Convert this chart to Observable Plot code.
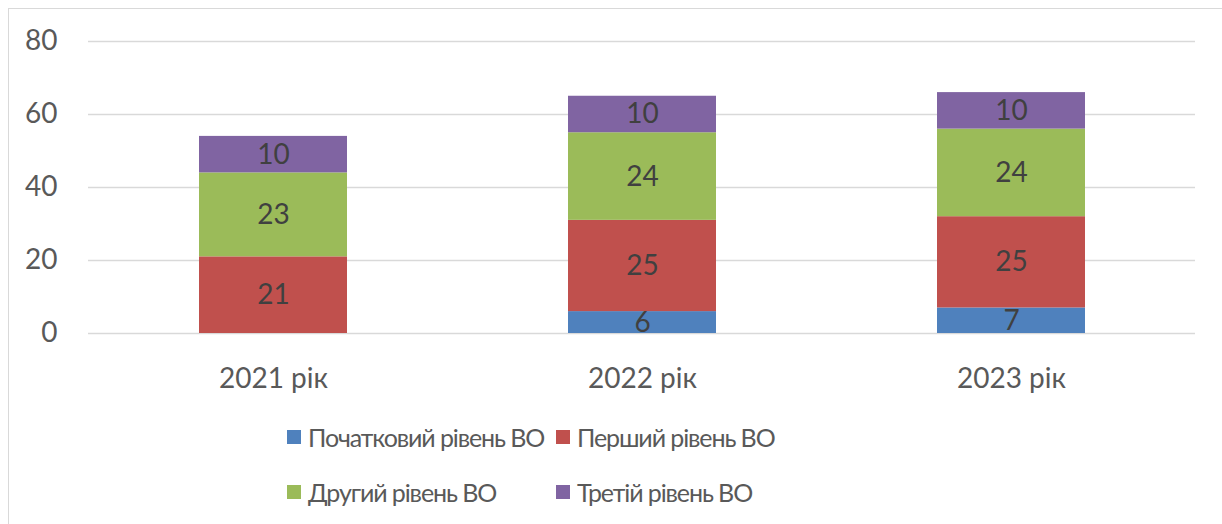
<!DOCTYPE html>
<html>
<head>
<meta charset="utf-8">
<script src="https://cdn.jsdelivr.net/npm/d3@7"></script>
<script src="https://cdn.jsdelivr.net/npm/@observablehq/plot@0.6"></script>
<style>
  body { margin:0; width:1222px; height:524px; overflow:hidden; position:relative; background:#fff; font-family: Lato, "Open Sans", sans-serif; }
  #frame { position:absolute; left:8px; top:8px; width:1400px; height:800px; border:1.5px solid #d9d9d9; box-sizing:border-box; }
  #chart { position:absolute; left:0; top:0; }
  #legend { position:absolute; left:287px; top:419px; display:grid; grid-template-columns:269px auto; grid-auto-rows:55px; color:#595959; font-size:25px; letter-spacing:-1.1px; }
  .item { display:flex; align-items:center; height:36px; white-space:nowrap; }
  .sw { width:14px; height:14px; margin-right:7px; flex:none; }
</style>
</head>
<body>
<div id="frame"></div>
<div id="chart"></div>
<div id="legend"></div>
<script>
const years = ["2021 рік", "2022 рік", "2023 рік"];
const levels = ["Початковий рівень ВО", "Перший рівень ВО", "Другий рівень ВО", "Третій рівень ВО"];
const initialLevel = [0, 6, 7];
const firstLevel = [21, 25, 25];
const secondLevel = [23, 24, 24];
const thirdLevel = [10, 10, 10];
const levelColors = ["#4F81BD", "#C0504D", "#9BBB59", "#8064A2"];
const yTicks = [0, 20, 40, 60, 80];

const series = [initialLevel, firstLevel, secondLevel, thirdLevel];
const rows = [];
years.forEach((year, i) => {
  levels.forEach((level, j) => {
    rows.push({ year, level, value: series[j][i] });
  });
});

const chart = Plot.plot({
  width: 1222,
  height: 400,
  marginLeft: 88,
  marginRight: 27,
  marginTop: 41,
  marginBottom: 67,
  style: { fontFamily: "Lato, 'Open Sans', sans-serif", color: "#595959", background: "transparent" },
  x: { domain: years, paddingInner: 0.6, paddingOuter: 0.3, label: null },
  y: { domain: [0, 80], label: null },
  color: { domain: levels, range: levelColors },
  marks: [
    Plot.ruleY(yTicks, { stroke: "#d9d9d9", strokeWidth: 1.5 }),
    Plot.barY(rows, { x: "year", y: "value", fill: "level", order: levels }),
    Plot.text(rows, Plot.stackY({
      x: "year", y: "value", z: "level", order: levels,
      text: d => d.value > 0 ? d.value : "",
      fill: "#404040", fontSize: 28
    })),
    Plot.axisY(yTicks, { tickSize: 0, tickPadding: 31, fontSize: 28, label: null }),
    Plot.axisX({ tickSize: 0, tickPadding: 35, fontSize: 28, label: null })
  ]
});
document.getElementById("chart").appendChild(chart);

const legend = document.getElementById("legend");
levels.forEach((level, j) => {
  const item = document.createElement("div");
  item.className = "item";
  const sw = document.createElement("span");
  sw.className = "sw";
  sw.style.background = levelColors[j];
  const label = document.createElement("span");
  label.textContent = level;
  item.appendChild(sw);
  item.appendChild(label);
  legend.appendChild(item);
});
</script>
</body>
</html>
